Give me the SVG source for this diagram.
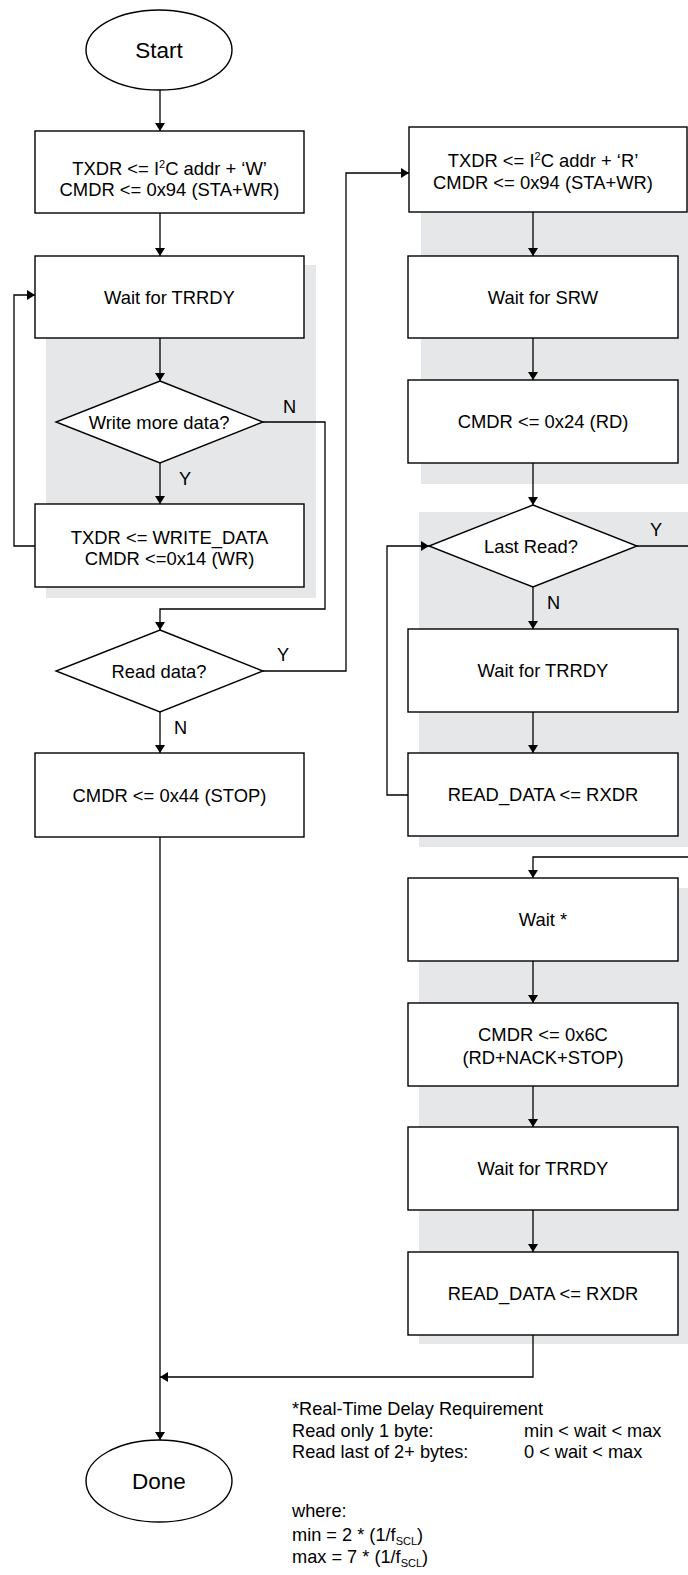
<svg xmlns="http://www.w3.org/2000/svg" width="688" height="1575" viewBox="0 0 688 1575">
<style>
.bg{fill:#e6e7e8;stroke:none}
.box{fill:#fff;stroke:#000;stroke-width:1.4}
.t{font-family:"Liberation Sans",Arial,sans-serif;font-size:18.4px;fill:#000;text-anchor:middle}
.tl{font-family:"Liberation Sans",Arial,sans-serif;font-size:18.2px;fill:#000}
.big{font-size:22.5px}
.c{fill:none;stroke:#000;stroke-width:1.3}
.sup{font-size:11px}
</style>
<defs>
<marker id="ah" viewBox="0 0 8 10" refX="8" refY="5" markerWidth="8" markerHeight="10" markerUnits="userSpaceOnUse" orient="auto">
<path d="M0,0 L8,5 L0,10 z" fill="#000"/>
</marker>
</defs>
<rect width="688" height="1575" fill="#fff"/>
<g id="panels">
<rect class="bg" x="46" y="265" width="270" height="333"/>
<rect class="bg" x="421" y="137" width="267" height="347"/>
<rect class="bg" x="419" y="512" width="269" height="335"/>
<rect class="bg" x="419" y="888" width="269" height="456"/>
</g>
<g id="connectors">
<path class="c" d="M160,90 V131" marker-end="url(#ah)"/>
<path class="c" d="M160,213 V256" marker-end="url(#ah)"/>
<path class="c" d="M160,338 V381" marker-end="url(#ah)"/>
<path class="c" d="M160,463 V504" marker-end="url(#ah)"/>
<path class="c" d="M35,546 H14 V295 H35" marker-end="url(#ah)"/>
<path class="c" d="M263,422 H325 V609 H160 V630" marker-end="url(#ah)"/>
<path class="c" d="M160,712 V753" marker-end="url(#ah)"/>
<path class="c" d="M263,671 H346 V173 H409" marker-end="url(#ah)"/>
<path class="c" d="M533,212 V256" marker-end="url(#ah)"/>
<path class="c" d="M533,338 V380" marker-end="url(#ah)"/>
<path class="c" d="M533,463 V505" marker-end="url(#ah)"/>
<path class="c" d="M533,587 V629" marker-end="url(#ah)"/>
<path class="c" d="M533,712 V753" marker-end="url(#ah)"/>
<path class="c" d="M408,795 H387 V546 H429" marker-end="url(#ah)"/>
<path class="c" d="M637,546 H690"/>
<path class="c" d="M690,857 H533 V878" marker-end="url(#ah)"/>
<path class="c" d="M533,961 V1003" marker-end="url(#ah)"/>
<path class="c" d="M533,1086 V1127" marker-end="url(#ah)"/>
<path class="c" d="M533,1210 V1252" marker-end="url(#ah)"/>
<path class="c" d="M533,1335 V1377 H160" marker-end="url(#ah)"/>
<path class="c" d="M160,837 V1440" marker-end="url(#ah)"/>
<text class="tl" x="283" y="413">N</text>
<text class="tl" x="179" y="485">Y</text>
<text class="tl" x="277" y="661">Y</text>
<text class="tl" x="174" y="734">N</text>
<text class="tl" x="547" y="609">N</text>
<text class="tl" x="650" y="536">Y</text>
</g>
<g id="start">
<ellipse class="box" cx="159" cy="50" rx="73" ry="40"/>
<text class="t big" x="159" y="58">Start</text>
</g>
<g id="txdr-w">
<rect class="box" x="35" y="131" width="269" height="82"/>
<text class="t" x="169.5" y="174.5">TXDR &lt;= I<tspan class="sup" dy="-7">2</tspan><tspan dy="7">C addr + ‘W’</tspan></text>
<text class="t" x="169.5" y="195.5">CMDR &lt;= 0x94 (STA+WR)</text>
</g>
<g id="wait-trrdy-1">
<rect class="box" x="35" y="256" width="269" height="82"/>
<text class="t" x="169.5" y="303.5">Wait for TRRDY</text>
</g>
<g id="write-more">
<polygon class="box" points="160,381 263,422 160,463 56,422"/>
<text class="t" x="159" y="428.5">Write more data?</text>
</g>
<g id="write-data">
<rect class="box" x="35" y="504" width="269" height="83"/>
<text class="t" x="169.5" y="543.5">TXDR &lt;= WRITE_DATA</text>
<text class="t" x="169.5" y="564.5">CMDR &lt;=0x14 (WR)</text>
</g>
<g id="read-data-q">
<polygon class="box" points="160,630 263,671 160,712 56,671"/>
<text class="t" x="159" y="677.5">Read data?</text>
</g>
<g id="stop">
<rect class="box" x="35" y="753" width="269" height="84"/>
<text class="t" x="169.5" y="801.5">CMDR &lt;= 0x44 (STOP)</text>
</g>
<g id="done">
<ellipse class="box" cx="159" cy="1481" rx="73" ry="41"/>
<text class="t big" x="159" y="1489">Done</text>
</g>
<g id="txdr-r">
<rect class="box" x="409" y="127" width="278" height="85"/>
<text class="t" x="543" y="166.5">TXDR &lt;= I<tspan class="sup" dy="-7">2</tspan><tspan dy="7">C addr + ‘R’</tspan></text>
<text class="t" x="543" y="188.5">CMDR &lt;= 0x94 (STA+WR)</text>
</g>
<g id="wait-srw">
<rect class="box" x="408" y="256" width="270" height="82"/>
<text class="t" x="543" y="303.5">Wait for SRW</text>
</g>
<g id="cmdr-rd">
<rect class="box" x="408" y="380" width="270" height="83"/>
<text class="t" x="543" y="428">CMDR &lt;= 0x24 (RD)</text>
</g>
<g id="last-read">
<polygon class="box" points="533,505 637,546 533,587 429,546"/>
<text class="t" x="531" y="552.5">Last Read?</text>
</g>
<g id="wait-trrdy-2">
<rect class="box" x="408" y="629" width="270" height="83"/>
<text class="t" x="543" y="677">Wait for TRRDY</text>
</g>
<g id="read-data-1">
<rect class="box" x="408" y="753" width="270" height="83"/>
<text class="t" x="543" y="801">READ_DATA &lt;= RXDR</text>
</g>
<g id="wait-star">
<rect class="box" x="408" y="878" width="270" height="83"/>
<text class="t" x="543" y="926">Wait *</text>
</g>
<g id="cmdr-nack">
<rect class="box" x="408" y="1003" width="270" height="83"/>
<text class="t" x="543" y="1040.5">CMDR &lt;= 0x6C</text>
<text class="t" x="543" y="1063.5">(RD+NACK+STOP)</text>
</g>
<g id="wait-trrdy-3">
<rect class="box" x="408" y="1127" width="270" height="83"/>
<text class="t" x="543" y="1175">Wait for TRRDY</text>
</g>
<g id="read-data-2">
<rect class="box" x="408" y="1252" width="270" height="83"/>
<text class="t" x="543" y="1300">READ_DATA &lt;= RXDR</text>
</g>
<g id="notes">
<text class="tl" x="292" y="1415">*Real-Time Delay Requirement</text>
<text class="tl" x="292" y="1437">Read only 1 byte:</text>
<text class="tl" x="524" y="1437">min &lt; wait &lt; max</text>
<text class="tl" x="292" y="1458">Read last of 2+ bytes:</text>
<text class="tl" x="524" y="1458">0 &lt; wait &lt; max</text>
<text class="tl" x="292" y="1517">where:</text>
<text class="tl" x="292" y="1541">min = 2 * (1/f<tspan class="sup" dy="4">SCL</tspan><tspan dy="-4">)</tspan></text>
<text class="tl" x="292" y="1563">max = 7 * (1/f<tspan class="sup" dy="4">SCL</tspan><tspan dy="-4">)</tspan></text>
</g>
</svg>
